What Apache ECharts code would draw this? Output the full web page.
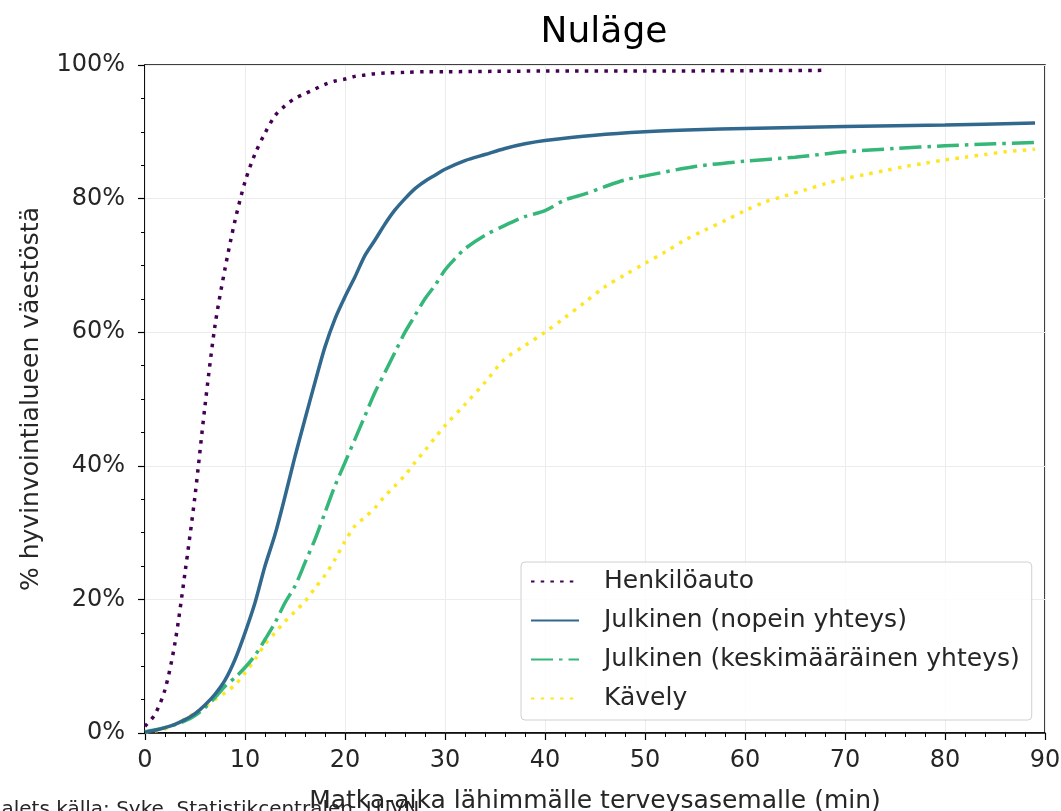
<!DOCTYPE html>
<html>
<head>
<meta charset="utf-8">
<script src="https://cdn.jsdelivr.net/npm/echarts@6/dist/echarts.min.js"></script>
<style>
html, body { margin: 0; padding: 0; background: #fff; }
#chart { width: 1061px; height: 811px; }
</style>
</head>
<body>
<div id="chart"></div>
<script>
// arvot luettu kuvasta (min, %)
var autoMin = [0, 1, 2, 3, 4, 5, 6, 7, 8, 9, 10, 11, 12, 13, 14, 15, 16, 17, 18, 19, 20, 21, 22, 23, 24, 26, 28, 30, 35, 40, 50, 60, 68];
var autoVal = [1, 2.8, 6.5, 13.5, 24, 35.5, 49, 61, 69.5, 76.7, 82.5, 86.7, 89.8, 92.4, 93.9, 95, 95.7, 96.4, 97.1, 97.6, 97.9, 98.3, 98.5, 98.7, 98.8, 98.9, 99, 99, 99.05, 99.1, 99.1, 99.15, 99.2];

var nopeinMin = [0, 1, 2, 3, 4, 5, 6, 7, 8, 9, 10, 11, 12, 13, 14, 15, 16, 17, 18, 19, 20, 21, 22, 23, 24, 25, 26, 27, 28, 29, 30, 32, 34, 36, 38, 40, 45, 50, 55, 60, 70, 80, 89];
var nopeinVal = [0.1, 0.4, 0.8, 1.3, 2.0, 2.9, 4.2, 5.8, 7.9, 11, 15, 19.5, 25, 29.7, 35.4, 41.4, 47, 52.5, 57.8, 62, 65.3, 68.3, 71.5, 73.8, 76.2, 78.3, 80, 81.5, 82.6, 83.5, 84.4, 85.7, 86.6, 87.5, 88.2, 88.7, 89.5, 90, 90.3, 90.5, 90.8, 91, 91.3];

var keskiMin = [0, 2, 4, 5, 6, 7, 8, 9, 10, 11, 12, 13, 14, 15, 16, 17, 18, 19, 20, 21, 22, 23, 24, 25, 26, 27, 28, 29, 30, 31, 32, 34, 36, 38, 40, 42, 44, 46, 48, 50, 55, 60, 65, 70, 75, 80, 85, 89];
var keskiVal = [0.2, 0.8, 1.8, 2.6, 3.8, 5.3, 7, 8.3, 9.8, 11.6, 14, 16.5, 19.5, 22, 25.5, 29, 33, 37, 40.5, 44, 47.5, 51, 54, 57, 60, 62.5, 65, 67, 69.3, 71, 72.5, 74.5, 76, 77.3, 78.2, 79.8, 80.7, 81.8, 82.8, 83.4, 84.8, 85.6, 86.2, 87, 87.5, 87.9, 88.2, 88.4];

var kavelyMin = [0, 2, 4, 5, 6, 7, 8, 9, 10, 11, 12, 13, 14, 15, 16, 17, 18, 19, 20, 21, 22, 23, 24, 25, 26, 27, 28, 29, 30, 32, 34, 36, 38, 40, 42, 44, 46, 48, 50, 52, 54, 56, 58, 60, 62, 64, 66, 68, 70, 72, 74, 76, 78, 80, 82, 84, 86, 89];
var kavelyVal = [0.1, 0.6, 2.1, 3, 4, 5, 6, 7.2, 9, 11, 13.3, 15, 16.7, 18.2, 19.7, 21.7, 23.6, 26, 28.7, 31, 32.3, 33.7, 35.5, 37, 38.6, 40.5, 42.3, 44.2, 46, 49.2, 52.5, 56, 58, 60, 62.2, 64.5, 66.8, 68.6, 70.3, 72, 73.8, 75.3, 76.7, 78.2, 79.5, 80.4, 81.3, 82.2, 83, 83.6, 84.2, 84.8, 85.3, 85.8, 86.2, 86.6, 87, 87.4];

var seriesNames = ['Henkilöauto', 'Julkinen (nopein yhteys)', 'Julkinen (keskimääräinen yhteys)', 'Kävely'];
var seriesColors = ['#440154', '#31688e', '#35b779', '#fde725'];

var font = 'DejaVu Sans';

function pairs(xs, ys) {
    var out = [];
    for (var i = 0; i < xs.length; i++) {
        out.push([xs[i], ys[i]]);
    }
    return out;
}

var lineItem = function (idx, data, dash) {
    return {
        name: seriesNames[idx],
        type: 'line',
        data: data,
        symbol: 'none',
        smooth: 0.3,
        z: 20 - idx,
        lineStyle: {
            color: seriesColors[idx],
            width: 3.5,
            type: dash,
            cap: 'butt'
        },
        itemStyle: { color: seriesColors[idx] }
    }
};

var chart = echarts.init(document.getElementById('chart'));
var option = {
    backgroundColor: '#fff',
    animation: false,
    title: {
        text: 'Nuläge',
        left: 599,
        top: 10,
        textAlign: 'center',
        textStyle: { fontFamily: font, fontSize: 36, fontWeight: 'normal', color: '#000' }
    },
    grid: {
        left: 145,
        top: 65,
        right: 16,
        bottom: 78,
        outerBoundsMode: 'none',
        containLabel: false,
        show: true,
        borderColor: '#000',
        borderWidth: 1.5
    },
    legend: {
        data: seriesNames,
        orient: 'vertical',
        left: 521,
        top: 562,
        z: 30,
        padding: [7, 12, 9, 9],
        itemWidth: 48,
        itemHeight: 14,
        itemGap: 14,
        itemStyle: { opacity: 0 },
        backgroundColor: 'rgba(255,255,255,0.85)',
        borderColor: '#d0d0d0',
        borderWidth: 1,
        borderRadius: 4,
        textStyle: { fontFamily: font, fontSize: 25, color: '#262626', padding: [0, 0, 0, 20] }
    },
    xAxis: {
        type: 'value',
        z: 5,
        min: 0,
        max: 90,
        interval: 10,
        name: 'Matka-aika lähimmälle terveysasemalle (min)',
        nameLocation: 'middle',
        nameGap: 56,
        nameTextStyle: { fontFamily: font, fontSize: 25, color: '#262626' },
        axisLine: { show: true, lineStyle: { color: '#000', width: 1.5 } },
        axisTick: { show: true, length: 7, lineStyle: { color: '#000', width: 1.2 } },
        minorTick: { show: true, splitNumber: 5, length: 4, lineStyle: { color: '#000', width: 1 } },
        axisLabel: { fontFamily: font, fontSize: 24, color: '#262626', margin: 16 },
        splitLine: { show: true, lineStyle: { color: '#ececec', width: 1 } }
    },
    yAxis: {
        type: 'value',
        min: 0,
        max: 100,
        interval: 20,
        name: '% hyvinvointialueen väestöstä',
        nameLocation: 'middle',
        nameGap: 101,
        nameTextStyle: { fontFamily: font, fontSize: 25, color: '#262626' },
        axisLine: { show: true, lineStyle: { color: '#000', width: 1.5 } },
        axisTick: { show: true, length: 7, lineStyle: { color: '#000', width: 1.2 } },
        minorTick: { show: true, splitNumber: 4, length: 4, lineStyle: { color: '#000', width: 1 } },
        axisLabel: { fontFamily: font, fontSize: 24, color: '#262626', margin: 20, formatter: '{value}%' },
        splitLine: { show: true, lineStyle: { color: '#ececec', width: 1 } }
    },
    graphic: [
        {
            type: 'text',
            x: -62,
            y: 820,
            z: 1,
            style: {
                text: 'Materialets källa: Syke, Statistikcentralen, LUVN',
                fontFamily: font,
                fontSize: 20,
                verticalAlign: 'bottom',
                fill: '#262626'
            }
        }
    ],
    series: [
        lineItem(0, pairs(autoMin, autoVal), [3.5, 6.2]),
        lineItem(1, pairs(nopeinMin, nopeinVal), 'solid'),
        lineItem(2, pairs(keskiMin, keskiVal), [22, 6, 3.5, 6]),
        lineItem(3, pairs(kavelyMin, kavelyVal), [3.5, 6.2])
    ]
};
chart.setOption(option);
</script>
</body>
</html>
